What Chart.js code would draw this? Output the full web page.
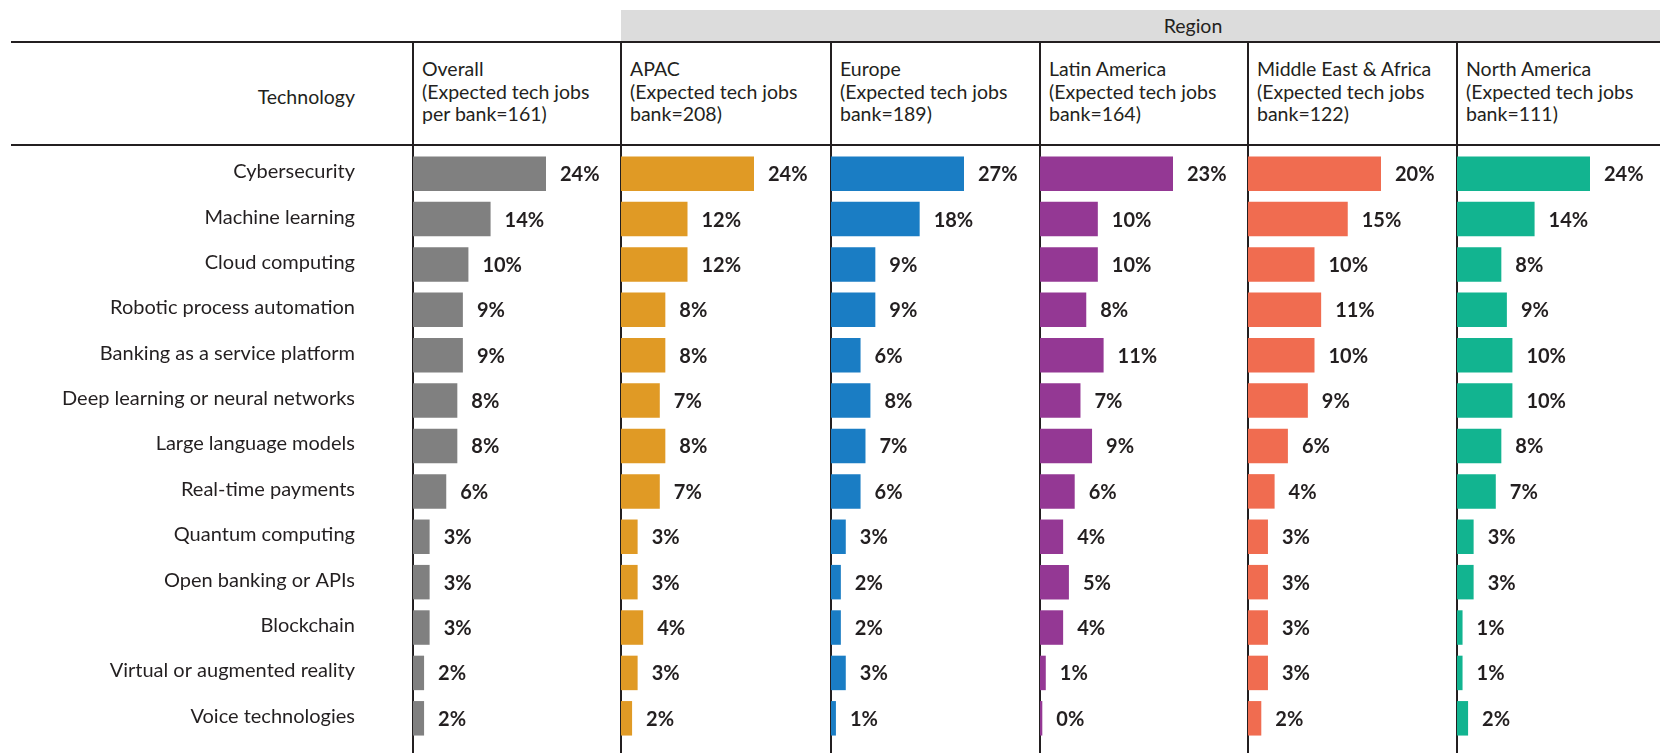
<!DOCTYPE html>
<html>
<head>
<meta charset="utf-8">
<script src="https://cdn.jsdelivr.net/npm/chart.js@4.4.1/dist/chart.umd.min.js"></script>
<style>
  body {
    margin: 0;
    width: 1660px;
    height: 753px;
    background: #fff;
    position: relative;
    overflow: hidden;
    font-family: Lato, 'Liberation Sans', sans-serif;
    color: #231f20;
  }
  .abs { position: absolute; }
  .region-band {
    left: 621px; top: 10px; width: 1039px; height: 32px;
    background: #dcdcdc;
  }
  .region-text {
    left: 1093px; top: 10px; width: 200px; height: 32px;
    line-height: 32px; text-align: center; font-size: 19.5px;
  }
  .hline { left: 11px; width: 1649px; height: 2px; background: #231f20; }
  .vline { top: 42px; width: 1.5px; height: 711px; background: #231f20; }
  .tech-head {
    left: 0; top: 85px; width: 355px; text-align: right; font-size: 19.5px;
  }
  .col-head { top: 58px; font-size: 19.5px; line-height: 22.5px; white-space: nowrap; }
  canvas.chart { position: absolute; top: 151px; }
</style>
</head>
<body>
<div class="abs region-band"></div>
<div class="abs region-text">Region</div>
<div class="abs hline" style="top:41px"></div>
<div class="abs hline" style="top:144px"></div>
<div class="abs tech-head">Technology</div>

<script>
const technologies = [
  'Cybersecurity',
  'Machine learning',
  'Cloud computing',
  'Robotic process automation',
  'Banking as a service platform',
  'Deep learning or neural networks',
  'Large language models',
  'Real-time payments',
  'Quantum computing',
  'Open banking or APIs',
  'Blockchain',
  'Virtual or augmented reality',
  'Voice technologies',
];

const columnNames = ['Overall', 'APAC', 'Europe', 'Latin America', 'Middle East & Africa', 'North America'];
const columnNotes = [
  '(Expected tech jobs<br>per bank=161)',
  '(Expected tech jobs<br>bank=208)',
  '(Expected tech jobs<br>bank=189)',
  '(Expected tech jobs<br>bank=164)',
  '(Expected tech jobs<br>bank=122)',
  '(Expected tech jobs<br>bank=111)',
];

const overall = [24, 14, 10, 9, 9, 8, 8, 6, 3, 3, 3, 2, 2];
const apac = [24, 12, 12, 8, 8, 7, 8, 7, 3, 3, 4, 3, 2];
const europe = [27, 18, 9, 9, 6, 8, 7, 6, 3, 2, 2, 3, 1];
const latinAmerica = [23, 10, 10, 8, 11, 7, 9, 6, 4, 5, 4, 1, 0.4];
const middleEastAfrica = [20, 15, 10, 11, 10, 9, 6, 4, 3, 3, 3, 3, 2];
const northAmerica = [24, 14, 8, 9, 10, 10, 8, 7, 3, 3, 1, 1, 2];

const seriesList = [overall, apac, europe, latinAmerica, middleEastAfrica, northAmerica];
const colors = ['#808080', '#e09a25', '#1a7dc4', '#943894', '#f06c50', '#12b490'];

// column edges (px) and the length of the longest bar in each column
const colLefts = [413, 621, 831, 1040, 1248, 1457];
const pageWidth = 1660;
const chartHeight = 590;
const topBarPx = 133;
const fontFamily = 'Lato, "Liberation Sans", sans-serif';
const valueFont = 'bold 20px ' + fontFamily;

//etiquetas de valor al final de cada barra
const valueLabels = {
  id: 'valueLabels',
  afterDatasetsDraw(chart) {
    const ctx = chart.ctx;
    const meta = chart.getDatasetMeta(0);
    const values = chart.data.datasets[0].data;
    ctx.save();
    ctx.font = valueFont;
    ctx.fillStyle = '#231f20';
    ctx.textAlign = 'left';
    ctx.textBaseline = 'middle';
    meta.data.forEach((bar, i) => {
      ctx.fillText(Math.round(values[i]) + '%', bar.x + 14, bar.y + 1);
    });
    ctx.restore();
  },
};

colLefts.forEach((left, i) => {
  const right = i < colLefts.length - 1 ? colLefts[i + 1] : pageWidth;

  const line = document.createElement('div');
  line.className = 'abs vline';
  line.style.left = left - 0.75 + 'px';
  document.body.appendChild(line);

  const head = document.createElement('div');
  head.className = 'abs col-head';
  head.style.left = left + 9 + 'px';
  head.innerHTML = columnNames[i] + '<br>' + columnNotes[i];
  document.body.appendChild(head);

  // first chart also carries the technology labels on its y axis
  const first = i === 0;
  const canvas = document.createElement('canvas');
  canvas.className = 'chart';
  canvas.width = first ? right : right - left;
  canvas.height = chartHeight;
  canvas.style.left = (first ? 0 : left) + 'px';
  document.body.appendChild(canvas);

  const values = seriesList[i];
  const xMax = (Math.max(...values) * (right - left)) / topBarPx;

  const yAxis = {
    display: first,
    offset: true,
    border: { display: false },
    grid: { display: false, drawTicks: false },
    ticks: {
      padding: 58,
      labelOffset: -2,
      color: '#231f20',
      font: { family: fontFamily, size: 20 },
    },
  };
  if (first) {
    yAxis.afterFit = (scale) => {
      scale.width = left;
      scale.paddingTop = 0;
      scale.paddingBottom = 0;
    };
  }

  new Chart(canvas, {
    type: 'bar',
    data: {
      labels: technologies,
      datasets: [
        {
          data: values,
          backgroundColor: colors[i],
          borderWidth: 0,
          barPercentage: 0.76,
          categoryPercentage: 1,
        },
      ],
    },
    options: {
      indexAxis: 'y',
      responsive: false,
      animation: false,
      devicePixelRatio: 1,
      layout: { padding: 0 },
      plugins: {
        legend: { display: false },
        tooltip: { enabled: false },
      },
      scales: {
        x: { display: false, min: 0, max: xMax },
        y: yAxis,
      },
    },
    plugins: [valueLabels],
  });
});
</script>
</body>
</html>
